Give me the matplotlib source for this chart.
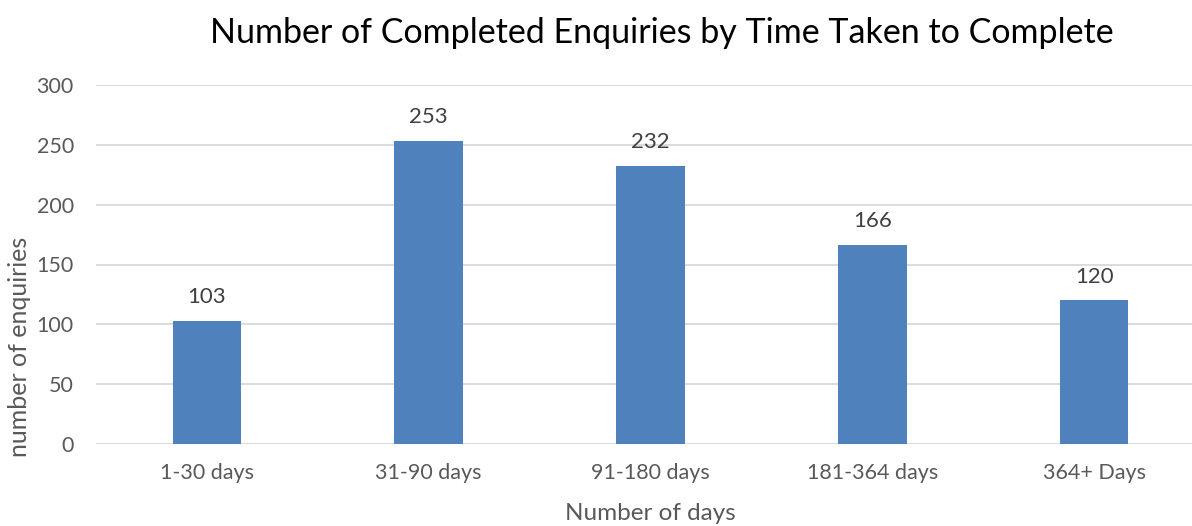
import matplotlib.pyplot as plt

categories = ['1-30 days', '31-90 days', '91-180 days', '181-364 days', '364+ Days']
enquiries = [103, 253, 232, 166, 120]
y_ticks = [0, 50, 100, 150, 200, 250, 300]

plt.rcParams['font.family'] = ['Lato', 'DejaVu Sans']
grey = '#595959'

W, H = 1192, 526
fig = plt.figure(figsize=(W / 100, H / 100), dpi=100)
# axes right edge runs past the image, like the cropped original
ax = fig.add_axes([96 / W, 1 - 444 / H, 1109 / W, 359 / H])

x = range(len(categories))
bars = ax.bar(x, enquiries, width=0.31, color='#4F81BD', zorder=3)
ax.bar_label(bars, labels=[str(v) for v in enquiries], padding=10,
             fontsize=16, color='#404040')

ax.set_xlim(-0.5, len(categories) - 0.5)
ax.set_ylim(0, 300)
ax.set_yticks(y_ticks)
ax.set_xticks(list(x))
ax.set_xticklabels(categories)
ax.tick_params(axis='both', length=0, labelsize=15.5, labelcolor=grey)
ax.tick_params(axis='x', pad=14)
ax.tick_params(axis='y', pad=16)
ax.grid(axis='y', color='#D9D9D9', linewidth=1.3, zorder=0)
for s in ax.spines.values():
    s.set_visible(False)

fig.text(662 / W, 1 - 33 / H, 'Number of Completed Enquiries by Time Taken to Complete',
         ha='center', va='center', fontsize=24.5, color='black')
fig.text(20 / W, 1 - 347 / H, 'number of enquiries', rotation=90,
         ha='center', va='center', fontsize=18, color=grey)
fig.text(650 / W, 1 - 513 / H, 'Number of days', ha='center', va='center',
         fontsize=17.5, color=grey)

fig.savefig('out.png', dpi=100)
